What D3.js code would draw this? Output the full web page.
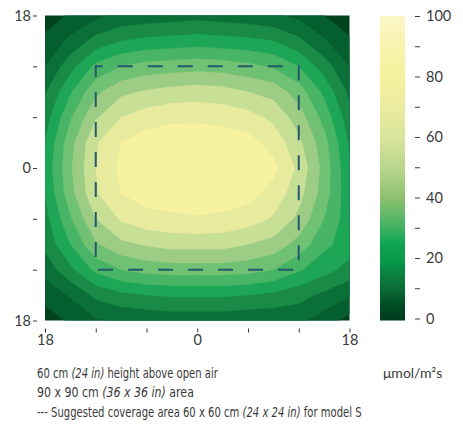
<!DOCTYPE html>
<html>
<head>
<meta charset="utf-8">
<script src="https://cdn.jsdelivr.net/npm/d3@7"></script>
<style>
  html, body { margin: 0; padding: 0; background: #fff; }
  svg { display: block; }
</style>
</head>
<body>
<svg id="chart" width="463" height="425"></svg>
<script>
// PAR readings (µmol/m²s) on a 3 in grid across the 36 x 36 in area, rows listed top to bottom
const xPositions = [-18, -15, -12, -9, -6, -3, 0, 3, 6, 9, 12, 15, 18];
const yPositions = [-18, -15, -12, -9, -6, -3, 0, 3, 6, 9, 12, 15, 18];
const parRows = [
  [ 4,  9, 14, 18, 19, 20, 21, 20, 19, 17, 14,  8,  4],
  [10, 18, 27, 32, 34, 35, 36, 35, 34, 32, 26, 17,  9],
  [16, 29, 42, 48, 51, 52, 53, 52, 50, 47, 40, 28, 16],
  [23, 39, 54, 62, 65, 67, 68, 67, 64, 61, 52, 38, 22],
  [28, 47, 63, 72, 76, 78, 78, 77, 75, 70, 60, 45, 27],
  [32, 53, 71, 80, 84, 85, 86, 85, 83, 77, 66, 51, 31],
  [34, 55, 72, 82, 86, 87, 87, 87, 86, 82, 70, 53, 33],
  [32, 53, 71, 80, 84, 85, 86, 85, 83, 77, 67, 52, 34],
  [29, 47, 64, 73, 77, 78, 79, 78, 76, 71, 62, 48, 35],
  [26, 40, 55, 62, 65, 67, 67, 67, 64, 61, 53, 42, 36],
  [19, 30, 42, 48, 51, 52, 52, 52, 51, 48, 41, 35, 29],
  [11, 17, 26, 30, 32, 33, 33, 33, 32, 30, 27, 22, 17],
  [ 4,  9, 15, 17, 18, 19, 19, 19, 18, 18, 18, 12,  5]
];

// contour levels and the fill used for each band
const levels = [0, 8, 16, 24, 32, 40, 48, 56, 64, 72, 80, 88];
const bandColors = ["#01441c", "#045e2d", "#0b7038", "#1a8b46", "#1ca656", "#48b465",
                    "#70c174", "#9dcd84", "#c8df96", "#e8eb9e", "#f7f29f", "#f9f4b4"];

// axis ticks (inches from centre)
const axisTicks = [-18, -12, -6, 0, 6, 12, 18];
const axisLabels = ["18", "", "", "0", "", "", "18"];

// colour scale legend
const scaleTicks = [0, 10, 20, 30, 40, 50, 60, 70, 80, 90, 100];
const scaleLabels = ["0", "", "20", "", "40", "", "60", "", "80", "", "100"];
const gradientValues = [0, 5, 10, 15, 20, 25, 32, 40, 50, 60, 70, 80, 90, 100];
const gradientColors = ["#003b1c", "#014d25", "#0a6a35", "#0b8140", "#0a9a4a", "#0ea552",
                        "#4db466", "#8bc06d", "#b8d68c", "#d8e59b", "#ebeca0", "#f6f19c",
                        "#f8f3ad", "#fbf7c6"];
const unitLabel = "μmol/m²s";

// coverage outline (inches)
const coverageHalf = 12;

// caption, split into plain and italic runs, with each line's set width
const captionLines = [
  [["60 cm ", false], ["(24 in)", true], [" height above open air", false]],
  [["90 x 90 cm ", false], ["(36 x 36 in)", true], [" area", false]],
  [["--- Suggested coverage area 60 x 60 cm ", false], ["(24 x 24 in)", true], [" for model S", false]]
];
const captionWidths = [181, 157, 325];

const svg = d3.select("#chart");
const tickFont = "Lato, 'Open Sans', 'Noto Sans', sans-serif";
const textColor = "#3a3a3a";

const plot = { left: 45, right: 349.5, top: 15.5, bottom: 320.5 };
const x = d3.scaleLinear().domain([-18, 18]).range([plot.left, plot.right]);
const y = d3.scaleLinear().domain([-18, 18]).range([plot.top, plot.bottom]);

// filled contours
const nx = xPositions.length, ny = yPositions.length;
const stepX = xPositions[1] - xPositions[0];
const stepY = yPositions[1] - yPositions[0];
const values = parRows.flat();
const contours = d3.contours().size([nx, ny]).thresholds(levels)(values);
const bandScale = d3.scaleOrdinal().domain(levels).range(bandColors);

// grid sample i sits at contour coordinate i + 0.5
const toChart = d3.geoTransform({
  point(cx, cy) {
    this.stream.point(
      x(xPositions[0] + (cx - 0.5) * stepX),
      y(yPositions[0] + (cy - 0.5) * stepY)
    );
  }
});
const path = d3.geoPath(toChart);

svg.append("clipPath").attr("id", "plot-clip")
  .append("rect")
  .attr("x", plot.left).attr("y", plot.top)
  .attr("width", plot.right - plot.left).attr("height", plot.bottom - plot.top);

svg.append("g").attr("clip-path", "url(#plot-clip)")
  .selectAll("path")
  .data(contours)
  .join("path")
  .attr("d", path)
  .attr("fill", d => bandScale(d.value))
  .attr("stroke", d => bandScale(d.value))
  .attr("stroke-width", 0.4);

// suggested coverage outline
svg.append("rect")
  .attr("x", x(-coverageHalf)).attr("y", y(-coverageHalf))
  .attr("width", x(coverageHalf) - x(-coverageHalf))
  .attr("height", y(coverageHalf) - y(-coverageHalf))
  .attr("fill", "none")
  .attr("stroke", "#23596b")
  .attr("stroke-width", 2)
  .attr("stroke-dasharray", "15,15")
  .attr("stroke-dashoffset", 8);

function styleAxis(g) {
  g.select(".domain").remove();
  g.selectAll(".tick line").attr("stroke", textColor).attr("stroke-width", 1);
  g.selectAll(".tick text")
    .attr("fill", textColor)
    .style("font-family", tickFont)
    .style("font-size", "14.5px");
}

// left axis
svg.append("g")
  .attr("transform", "translate(37,0)")
  .call(d3.axisLeft(y).tickValues(axisTicks)
    .tickFormat((d, i) => axisLabels[i]).tickSize(4).tickPadding(2))
  .call(styleAxis);

// bottom axis
svg.append("g")
  .attr("transform", "translate(0,328.5)")
  .call(d3.axisBottom(x).tickValues(axisTicks)
    .tickFormat((d, i) => axisLabels[i]).tickSize(4).tickPadding(2.5))
  .call(styleAxis);

// colour bar
const bar = { left: 380, width: 25, top: 16, bottom: 320.5 };
const c = d3.scaleLinear().domain([0, 100]).range([318.5, 16]);
const grad = svg.append("defs").append("linearGradient")
  .attr("id", "par-gradient")
  .attr("x1", 0).attr("y1", 1).attr("x2", 0).attr("y2", 0);
grad.selectAll("stop")
  .data(gradientValues)
  .join("stop")
  .attr("offset", d => d / 100)
  .attr("stop-color", (d, i) => gradientColors[i]);

svg.append("rect")
  .attr("x", bar.left).attr("y", bar.top)
  .attr("width", bar.width).attr("height", bar.bottom - bar.top)
  .attr("fill", "url(#par-gradient)");

svg.append("g")
  .attr("transform", "translate(415,0)")
  .call(d3.axisRight(c).tickValues(scaleTicks)
    .tickFormat((d, i) => scaleLabels[i]).tickSize(5).tickPadding(6))
  .call(styleAxis);

svg.append("text")
  .attr("x", 383).attr("y", 378)
  .attr("fill", textColor)
  .style("font-family", tickFont)
  .style("font-size", "14px")
  .text(unitLabel);

// caption: each line is set in its natural width, then narrowed horizontally
const caption = svg.append("g")
  .style("font-family", "'Liberation Sans Narrow', 'DejaVu Sans Condensed', 'Roboto Condensed', sans-serif")
  .style("font-size", "13.5px")
  .attr("fill", textColor);
captionLines.forEach((runs, i) => {
  const t = caption.append("text").attr("x", 0).attr("y", 0);
  runs.forEach(([s, it]) => {
    t.append("tspan").attr("font-style", it ? "italic" : "normal").text(s);
  });
  const natural = t.node().getComputedTextLength();
  const k = natural > 0 ? captionWidths[i] / natural : 1;
  t.attr("transform", `translate(37,${378 + i * 19.4}) scale(${k},1)`);
});
</script>
</body>
</html>
